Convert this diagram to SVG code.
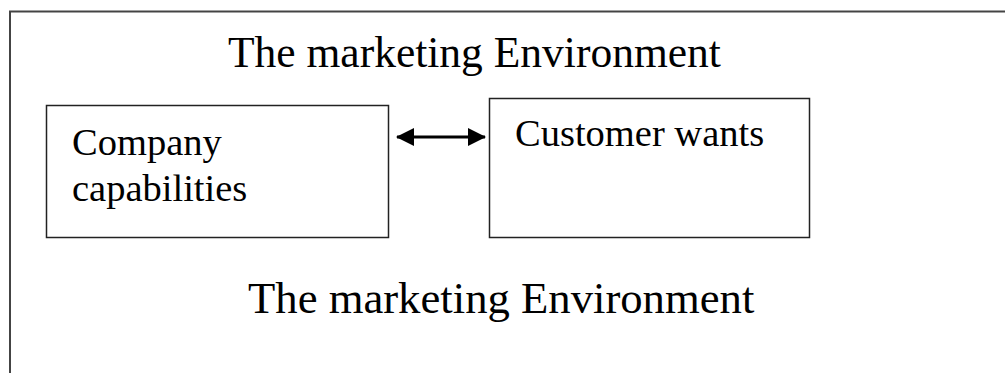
<svg xmlns="http://www.w3.org/2000/svg" width="1005" height="373" viewBox="0 0 1005 373">
  <style>
    .frame { fill: none; stroke: #444; stroke-width: 2; }
    .box { fill: #fff; stroke: #222; stroke-width: 1.5; }
    .title { font-family: "Liberation Serif", "Times New Roman", serif; font-size: 43.5px; fill: #000; }
    .label { font-family: "Liberation Serif", "Times New Roman", serif; font-size: 38.5px; fill: #000; }
    .link { stroke: #000; stroke-width: 3; fill: none; }
  </style>
  <defs>
    <marker id="head" viewBox="0 0 18 18" refX="17" refY="9" markerWidth="18" markerHeight="18" markerUnits="userSpaceOnUse" orient="auto-start-reverse">
      <path d="M0,0 L18,9 L0,18 Z" fill="#000"/>
    </marker>
  </defs>
  <rect width="1005" height="373" fill="#fff"/>

  <!-- surrounding environment frame (top and left edges) -->
  <path class="frame" d="M1005,11.5 H10 V373"/>

  <g id="title-top">
    <text class="title" x="228" y="67">The marketing Environment</text>
  </g>

  <g id="company-capabilities">
    <rect class="box" x="46.5" y="105.5" width="342" height="132"/>
    <text class="label" x="72" y="155">Company</text>
    <text class="label" x="72" y="201">capabilities</text>
  </g>

  <g id="customer-wants">
    <rect class="box" x="489.5" y="98.5" width="320" height="139"/>
    <text class="label" x="515" y="146">Customer wants</text>
  </g>

  <g id="connectors">
    <line class="link" x1="397" y1="137" x2="485" y2="137" marker-start="url(#head)" marker-end="url(#head)"/>
  </g>

  <g id="title-bottom">
    <text class="title" x="248" y="313" style="font-size:44.7px">The marketing Environment</text>
  </g>
</svg>
